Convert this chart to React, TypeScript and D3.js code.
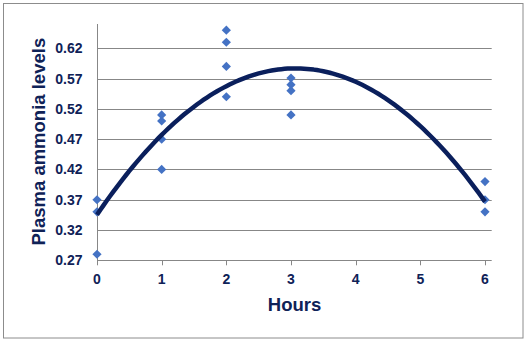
import React from "react";
import * as d3 from "d3";

const hours = [0, 0, 0, 1, 1, 1, 1, 2, 2, 2, 2, 3, 3, 3, 3, 6, 6, 6];
const ammonia = [0.37, 0.35, 0.28, 0.51, 0.5, 0.47, 0.42, 0.65, 0.63, 0.59, 0.54, 0.571, 0.56, 0.55, 0.51, 0.4, 0.37, 0.35];
const yTicks = [0.27, 0.32, 0.37, 0.42, 0.47, 0.52, 0.57, 0.62];
const xTicks = [0, 1, 2, 3, 4, 5, 6];

function quadFit(xs: number[], ys: number[]) {
  const s = (f: (x: number, y: number) => number) => xs.reduce((acc, x, i) => acc + f(x, ys[i]), 0);
  const n = xs.length;
  const sx = s((x) => x), sx2 = s((x) => x * x), sx3 = s((x) => x ** 3), sx4 = s((x) => x ** 4);
  const sy = s((_, y) => y), sxy = s((x, y) => x * y), sx2y = s((x, y) => x * x * y);
  const M = [
    [n, sx, sx2, sy],
    [sx, sx2, sx3, sxy],
    [sx2, sx3, sx4, sx2y],
  ];
  for (let i = 0; i < 3; i++) {
    for (let k = i + 1; k < 3; k++) {
      const f = M[k][i] / M[i][i];
      for (let j = i; j < 4; j++) M[k][j] -= f * M[i][j];
    }
  }
  const r = [0, 0, 0];
  for (let i = 2; i >= 0; i--) {
    let v = M[i][3];
    for (let j = i + 1; j < 3; j++) v -= M[i][j] * r[j];
    r[i] = v / M[i][i];
  }
  return (x: number) => r[0] + r[1] * x + r[2] * x * x;
}

export default function App() {
  const W = 528, H = 343;
  const x = d3.scaleLinear().domain([0, 6]).range([97, 485]);
  const y = d3.scaleLinear().domain([0.27, 0.62]).range([260.3, 48.3]);
  const plotTop = 24;
  const plotRight = 491.7;
  const fit = quadFit(hours, ammonia);
  const curvePts = d3.range(0, 6.0001, 0.05).map((h) => [h, fit(h)] as [number, number]);
  const line = d3.line<[number, number]>().x((d) => x(d[0])).y((d) => y(d[1])).curve(d3.curveLinear);
  const textColor = "#0f2257";
  const font = "Liberation Sans, Arial, sans-serif";
  const r = 4.6;
  return (
    <svg width={W} height={H} style={{ position: "absolute", left: 0, top: 0 }}>
      <rect x={0} y={0} width={W} height={H} fill="#fff" />
      <rect x={3.5} y={3.5} width={519.5} height={334.5} fill="#fff" stroke="#8c8c8c" strokeWidth={1} />
      {yTicks.slice(1).map((t) => (
        <line key={t} x1={x(0)} x2={plotRight} y1={Math.round(y(t)) + 0.5} y2={Math.round(y(t)) + 0.5} stroke="#878787" strokeWidth={1} />
      ))}
      <line x1={Math.round(x(0)) + 0.5} x2={Math.round(x(0)) + 0.5} y1={plotTop} y2={y(0.27)} stroke="#878787" />
      <line x1={x(0)} x2={plotRight} y1={Math.round(y(0.27)) + 0.5} y2={Math.round(y(0.27)) + 0.5} stroke="#878787" />
      {xTicks.map((t) => (
        <line key={t} x1={Math.round(x(t)) + 0.5} x2={Math.round(x(t)) + 0.5} y1={y(0.27)} y2={y(0.27) + 5} stroke="#878787" />
      ))}
      {yTicks.map((t) => (
        <text key={t} x={82.5} y={y(t)} dy="0.36em" textAnchor="end" fontFamily={font} fontWeight="bold" fontSize={14} fill={textColor}>
          {t.toFixed(2)}
        </text>
      ))}
      {xTicks.map((t) => (
        <text key={t} x={x(t)} y={283.7} textAnchor="middle" fontFamily={font} fontWeight="bold" fontSize={14} fill={textColor}>
          {t}
        </text>
      ))}
      <text x={294.5} y={310.5} textAnchor="middle" fontFamily={font} fontWeight="bold" fontSize={18.5} fill={textColor}>
        Hours
      </text>
      <text transform={`translate(45,141.7) rotate(-90)`} textAnchor="middle" fontFamily={font} fontWeight="bold" fontSize={18.5} fill={textColor}>
        Plasma ammonia levels
      </text>
      {hours.map((h, i) => {
        const cx = x(h), cy = y(ammonia[i]);
        return (
          <path key={i} d={`M${cx},${cy - r}L${cx + r},${cy}L${cx},${cy + r}L${cx - r},${cy}Z`} fill="#4472c4" />
        );
      })}
      <path d={line(curvePts) ?? ""} fill="none" stroke="#0a1f5c" strokeWidth={4.5} strokeLinecap="butt" strokeLinejoin="round" />
    </svg>
  );
}
